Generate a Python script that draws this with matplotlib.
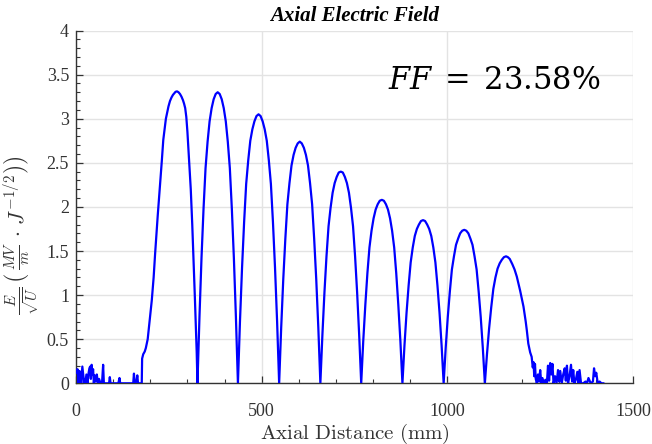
import matplotlib

matplotlib.use("Agg")
import matplotlib.pyplot as plt
from matplotlib.ticker import FuncFormatter, MultipleLocator

# --- field profile (x in mm, E/sqrt(U)) ---
# beam-pipe noise before the first cell
entry_x = [0, 2, 4, 7, 9, 11, 14, 17, 20, 22, 25, 28, 31, 34, 36, 38, 40, 42, 44, 46,
           48, 50, 53, 56, 59, 62, 66, 70, 73, 75, 78, 85, 89, 91, 93, 100, 114, 117, 119, 122,
           150, 154, 156, 158, 162, 165, 167, 170, 174]
entry_y = [0.15, 0.12, 0.16, 0.0, 0.14, 0.13, 0.0, 0.19, 0.08, 0.0, 0.0, 0.10, 0.0, 0.12, 0.17, 0.19, 0.05, 0.21, 0.10, 0.16,
           0.0, 0.09, 0.02, 0.10, 0.0, 0.05, 0.0, 0.0, 0.21, 0.0, 0.0, 0.0, 0.0, 0.07, 0.0, 0.0, 0.0, 0.06, 0.0, 0.0,
           0.0, 0.0, 0.11, 0.0, 0.0, 0.09, 0.0, 0.0, 0.0]

# first cell (asymmetric entrance)
cell1_x = [177, 178, 181, 185, 188, 193, 198, 204, 209, 213, 220, 226, 231, 235, 242, 249, 253, 257, 261, 265, 268, 272,
           276, 280, 284, 288, 291, 294, 297, 300, 305, 309, 313, 317, 320, 323, 325, 327]
cell1_y = [0.0, 0.28, 0.33, 0.36, 0.40, 0.50, 0.70, 0.94, 1.20, 1.47, 1.90, 2.23, 2.52, 2.76, 3.00, 3.14, 3.20, 3.24, 3.27, 3.29, 3.305, 3.31,
           3.30, 3.28, 3.25, 3.21, 3.17, 3.12, 3.02, 2.85, 2.50, 2.20, 1.80, 1.35, 0.98, 0.60, 0.35, 0.0]

# inner cells 2..8
cells_x = [
    [327, 332.5, 337.9, 343.4, 348.8, 354.3, 359.7, 365.2, 370.6, 376.1, 381.5,
     386.9, 392.4, 397.8, 403.3, 408.7, 414.2, 419.6, 425.1, 430.5, 436],
    [436, 441.5, 447.1, 452.7, 458.2, 463.8, 469.3, 474.9, 480.4, 486.0, 491.5,
     497.0, 502.6, 508.1, 513.7, 519.2, 524.8, 530.3, 535.9, 541.5, 547],
    [547, 552.5, 558.1, 563.7, 569.2, 574.8, 580.3, 585.9, 591.4, 597.0, 602.5,
     608.0, 613.6, 619.1, 624.7, 630.2, 635.8, 641.3, 646.9, 652.5, 658],
    [658, 663.5, 669, 674.5, 680, 685.5, 691, 696.5, 702, 707.5, 713,
     718.5, 724, 729.5, 735, 740.5, 746, 751.5, 757, 762.5, 768],
    [768, 773.5, 779.1, 784.7, 790.2, 795.8, 801.3, 806.9, 812.4, 818.0, 823.5,
     829.0, 834.6, 840.1, 845.7, 851.2, 856.8, 862.3, 867.9, 873.5, 879],
    [879, 884.5, 890.1, 895.7, 901.2, 906.8, 912.3, 917.9, 923.4, 929.0, 934.5,
     940.0, 945.6, 951.1, 956.7, 962.2, 967.8, 973.3, 978.9, 984.5, 990],
    [990, 995.5, 1001.1, 1006.7, 1012.2, 1017.8, 1023.3, 1028.9, 1034.4, 1040.0, 1045.5,
     1051.0, 1056.6, 1062.1, 1067.7, 1073.2, 1078.8, 1084.3, 1089.9, 1095.5, 1101],
]
cells_y = [
    [0, 0.76, 1.42, 1.98, 2.44, 2.74, 2.97, 3.12, 3.22, 3.28, 3.30,
     3.28, 3.22, 3.12, 2.97, 2.74, 2.44, 1.98, 1.42, 0.76, 0],
    [0, 0.70, 1.31, 1.83, 2.26, 2.53, 2.75, 2.88, 2.97, 3.03, 3.05,
     3.03, 2.97, 2.88, 2.75, 2.53, 2.26, 1.83, 1.31, 0.70, 0],
    [0, 0.63, 1.18, 1.64, 2.03, 2.27, 2.47, 2.59, 2.67, 2.72, 2.74,
     2.72, 2.67, 2.59, 2.47, 2.27, 2.03, 1.64, 1.18, 0.63, 0],
    [0, 0.55, 1.03, 1.44, 1.78, 1.99, 2.16, 2.27, 2.34, 2.39, 2.40,
     2.39, 2.34, 2.27, 2.16, 1.99, 1.78, 1.44, 1.03, 0.55, 0],
    [0, 0.48, 0.89, 1.25, 1.54, 1.73, 1.87, 1.97, 2.03, 2.07, 2.08,
     2.07, 2.03, 1.97, 1.87, 1.73, 1.54, 1.25, 0.89, 0.48, 0],
    [0, 0.43, 0.80, 1.11, 1.37, 1.54, 1.67, 1.75, 1.80, 1.84, 1.85,
     1.84, 1.80, 1.75, 1.67, 1.54, 1.37, 1.11, 0.80, 0.43, 0],
    [0, 0.40, 0.75, 1.04, 1.29, 1.44, 1.57, 1.64, 1.70, 1.73, 1.74,
     1.73, 1.70, 1.64, 1.57, 1.44, 1.29, 1.04, 0.75, 0.40, 0],
]

# last cell (exit side decays slowly)
cell9_x = [1101, 1106.7, 1112.4, 1118.1, 1123.8, 1129.5, 1135.2, 1140.9, 1146.6, 1152.3, 1158,
           1163, 1168, 1175, 1181, 1187, 1196, 1205, 1211, 1214, 1218, 1223, 1227]
cell9_y = [0, 0.33, 0.62, 0.86, 1.07, 1.20, 1.30, 1.36, 1.40, 1.43, 1.44,
           1.43, 1.41, 1.35, 1.29, 1.21, 1.05, 0.87, 0.70, 0.60, 0.45, 0.35, 0.30]

# beam-pipe noise after the last cell
exit_x = [1230, 1232, 1234, 1236, 1238, 1241, 1244, 1247, 1250, 1253,
          1256, 1260, 1264, 1268, 1271, 1274, 1277, 1280, 1283, 1286,
          1290, 1294, 1298, 1301, 1304, 1308, 1312, 1316, 1319, 1322,
          1325, 1329, 1333, 1336, 1339, 1342, 1346, 1350, 1353, 1356,
          1360, 1366, 1372, 1376, 1380, 1386, 1392, 1395, 1398, 1401,
          1405, 1410, 1415, 1420]
exit_y = [0.18, 0.24, 0.08, 0.22, 0.05, 0.0, 0.10, 0.02, 0.15, 0.0,
          0.06, 0.0, 0.04, 0.0, 0.20, 0.03, 0.23, 0.10, 0.22, 0.0,
          0.08, 0.0, 0.15, 0.02, 0.14, 0.0, 0.10, 0.17, 0.03, 0.20,
          0.0, 0.08, 0.21, 0.02, 0.15, 0.0, 0.04, 0.13, 0.0, 0.15,
          0.0, 0.0, 0.02, 0.0, 0.06, 0.0, 0.02, 0.17, 0.08, 0.12,
          0.0, 0.02, 0.0, 0.0]

x_ticks = [0, 500, 1000, 1500]
ff_label = r"$FF\;=\;23.58\%$"
y_label = r"$\frac{E}{\sqrt{U}}\,\left.\left(\,\frac{MV}{m}\,\cdot\,J^{-1/2}\right)\right)$"

z = entry_x + cell1_x
e = entry_y + cell1_y
for cx, cy in zip(cells_x, cells_y):
    z += cx
    e += cy
z += cell9_x + exit_x
e += cell9_y + exit_y

serif = "Liberation Serif"
dark = "#333333"

fig = plt.figure(figsize=(6.52, 4.44), dpi=100)
ax = fig.add_axes([0.1166, 0.1367, 0.8543, 0.7946])

ax.plot(z, e, color="#0000ff", lw=1.6, zorder=3)

ax.set_xlim(0, 1500)
ax.set_ylim(0, 4)
ax.set_xticks(x_ticks)
ax.xaxis.set_minor_locator(MultipleLocator(100))
ax.yaxis.set_major_locator(MultipleLocator(0.5))
ax.yaxis.set_minor_locator(MultipleLocator(0.1))
ax.yaxis.set_major_formatter(FuncFormatter(lambda v, _: f"{v:g}"))

ax.grid(True, which="major", color="#e3e3e3", lw=1.0, zorder=0)
for side in ("top", "right"):
    ax.spines[side].set_visible(False)
for side in ("left", "bottom"):
    ax.spines[side].set_color(dark)
    ax.spines[side].set_linewidth(1.0)

ax.tick_params(which="both", direction="in", colors=dark, top=False, right=False)
ax.tick_params(which="major", length=5, width=0.9)
ax.tick_params(which="minor", length=3, width=0.8)
ax.tick_params(axis="x", which="major", pad=14)
ax.tick_params(axis="y", which="major", pad=5)
for lab in ax.get_xticklabels() + ax.get_yticklabels():
    lab.set_fontfamily(serif)
    lab.set_fontsize(13)
    lab.set_color(dark)

ax.set_title("Axial Electric Field", fontfamily=serif, fontweight="bold",
             fontstyle="italic", fontsize=15, pad=7)
ax.set_xlabel(r"$\mathrm{Axial\ Distance\ (mm)}$", fontsize=15, color=dark,
              math_fontfamily="cm")
ax.xaxis.set_label_coords(0.5, -0.108)
ax.set_ylabel(y_label, fontsize=15.5, color=dark, math_fontfamily="cm")
ax.yaxis.set_label_coords(-0.062, 0.42)

ax.text(840, 3.43, ff_label, fontsize=22, math_fontfamily="dejavuserif",
        ha="left", va="center", color="black")

fig.savefig("out.png", dpi=100)
